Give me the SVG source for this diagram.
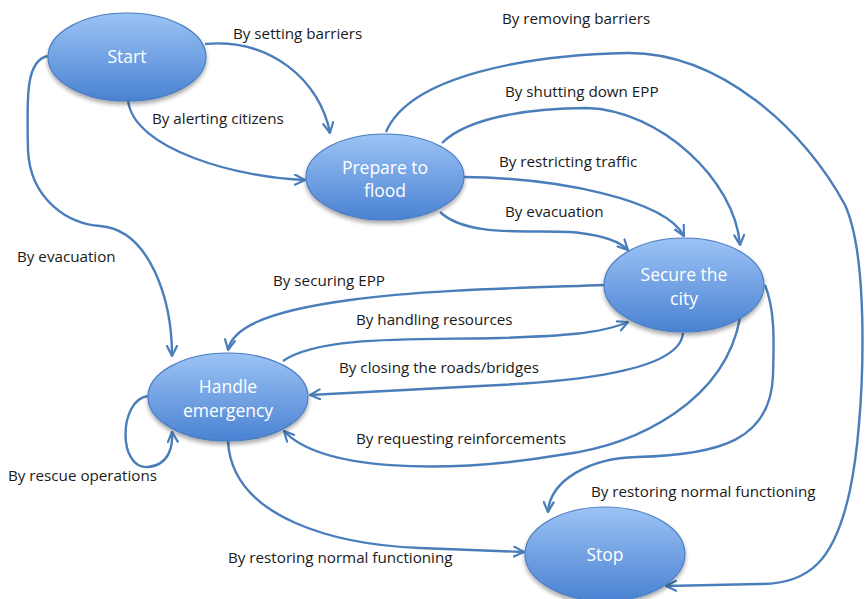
<svg xmlns="http://www.w3.org/2000/svg" width="865" height="599" viewBox="0 0 865 599">
<defs>
<linearGradient id="g" x1="0" y1="0" x2="0" y2="1">
<stop offset="0" stop-color="#9cc3f5"/>
<stop offset="1" stop-color="#4a82d2"/>
</linearGradient>
<filter id="sh" x="-20%" y="-20%" width="140%" height="150%">
<feGaussianBlur in="SourceAlpha" stdDeviation="2"/>
<feOffset dy="3" result="b"/>
<feComponentTransfer><feFuncA type="linear" slope="0.35"/></feComponentTransfer>
<feMerge><feMergeNode/><feMergeNode in="SourceGraphic"/></feMerge>
</filter>
<marker id="ar" viewBox="0 0 12 12" refX="11" refY="6" markerWidth="12" markerHeight="12" markerUnits="userSpaceOnUse" orient="auto">
<path d="M1,1 L11,6 L1,11" fill="none" stroke="#4a7ebb" stroke-width="2.2" stroke-linecap="round" stroke-linejoin="round"/>
</marker>
</defs>
<style>
.n ellipse{fill:url(#g);stroke:#4b7dc2;stroke-width:1.2;filter:url(#sh)}
.n text{fill:#ffffff;font-family:"Open Sans","Liberation Sans",sans-serif;font-size:17.5px;text-anchor:middle}
.e path{fill:none;stroke:#4a7ebb;stroke-width:2.4;marker-end:url(#ar)}
.l{fill:#1a1a1a;font-family:"Open Sans","Liberation Sans",sans-serif;font-size:15.2px}
</style>
<g id="edges" class="e">
<path d="M205,44 C270,38 320,80 330,133"/>
<path d="M128,100 C133,150 240,178 305,180"/>
<path d="M48,56 C25,60 27,100 28,150 C30,200 70,225 100,226 C150,230 172,300 172,356"/>
<path d="M386,132 C410,75 530,55 627,53 C720,52 805,130 845,205 C870,260 865,420 850,490 C835,560 810,584 760,584 L666,586"/>
<path d="M442,143 C470,115 540,108 587,108 C660,110 735,180 740,245"/>
<path d="M463,177 C560,178 665,200 684,236"/>
<path d="M440,212 C470,240 540,228 580,233 C605,236 620,242 628,250"/>
<path d="M604,285 C520,288 420,290 350,300 C260,312 232,330 228,350"/>
<path d="M283,361 C320,335 420,340 500,338 C560,336 600,334 628,322"/>
<path d="M683,333 C680,372 570,382 480,386 C400,390 340,393 310,395"/>
<path d="M740,318 C725,400 640,445 560,455 C440,475 320,470 284,431"/>
<path d="M765,285 C775,310 774,340 773,375 C771,440 720,455 637,457 C590,458 550,480 548,512"/>
<path d="M228,441 C232,520 340,545 420,548 C470,550 500,551 524,552"/>
<path d="M148,396 C118,400 118,470 148,467 C170,465 173,445 172,432"/>
</g>
<g id="labels">
<text class="l" x="233" y="39">By setting barriers</text>
<text class="l" x="152" y="124">By alerting citizens</text>
<text class="l" x="502" y="24">By removing barriers</text>
<text class="l" x="505" y="97">By shutting down EPP</text>
<text class="l" x="499" y="167">By restricting traffic</text>
<text class="l" x="505" y="217">By evacuation</text>
<text class="l" x="17" y="262">By evacuation</text>
<text class="l" x="273" y="286">By securing EPP</text>
<text class="l" x="356" y="325">By handling resources</text>
<text class="l" x="339" y="373">By closing the roads/bridges</text>
<text class="l" x="356" y="444">By requesting reinforcements</text>
<text class="l" x="8" y="481">By rescue operations</text>
<text class="l" x="591" y="497">By restoring normal functioning</text>
<text class="l" x="228" y="563">By restoring normal functioning</text>
</g>
<g id="start" class="n"><ellipse cx="127" cy="57" rx="79" ry="44"/><text x="127" y="63">Start</text></g>
<g id="prepare" class="n"><ellipse cx="385" cy="177" rx="79" ry="43"/><text x="385" y="174">Prepare to</text><text x="385" y="197">flood</text></g>
<g id="secure" class="n"><ellipse cx="684" cy="285" rx="80" ry="47"/><text x="684" y="281">Secure the</text><text x="684" y="305">city</text></g>
<g id="handle" class="n"><ellipse cx="228" cy="397" rx="80" ry="44"/><text x="228" y="393">Handle</text><text x="228" y="417">emergency</text></g>
<g id="stop" class="n"><ellipse cx="605" cy="554" rx="80" ry="47"/><text x="605" y="561">Stop</text></g>
</svg>
